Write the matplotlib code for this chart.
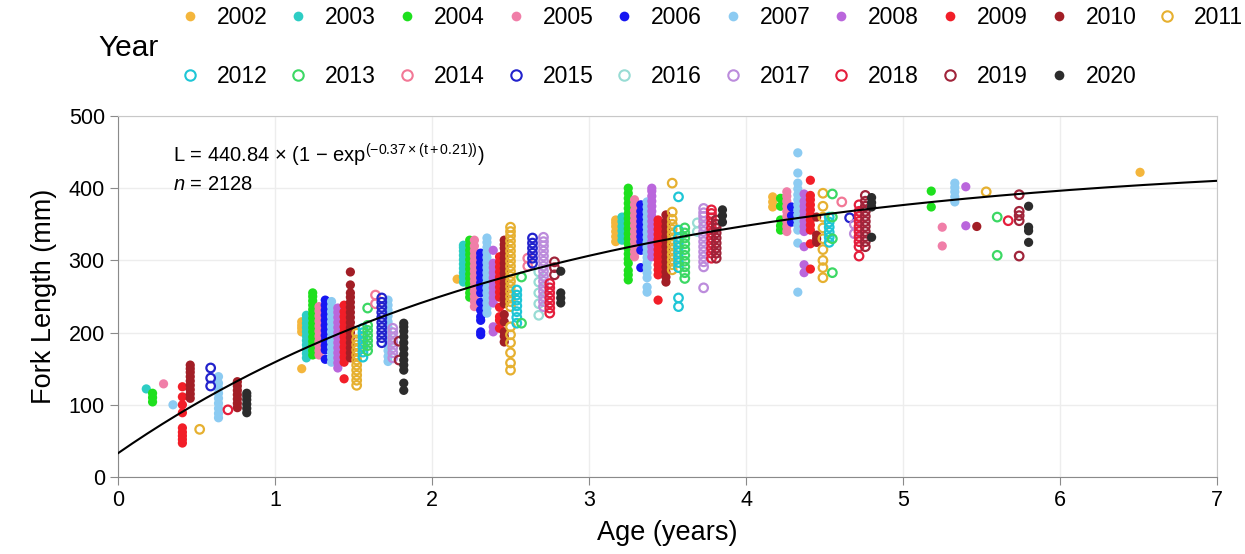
import numpy as np
import matplotlib
matplotlib.use("Agg")
import matplotlib.pyplot as plt
from matplotlib.lines import Line2D

plt.rcParams['font.family'] = ['Liberation Sans', 'DejaVu Sans']
plt.rcParams['mathtext.fontset'] = 'custom'
plt.rcParams['mathtext.rm'] = 'Liberation Sans'
plt.rcParams['mathtext.it'] = 'Liberation Sans:italic'

# fork length (mm) by sampling year, keyed by age (years) at capture
fl_2002 = {1.17: [150, 201, 206, 210, 215], 2.16: [274],
           3.17: [326, 333, 340, 347, 352, 356], 4.17: [374, 381, 388], 6.51: [422]}
fl_2003 = {0.18: [122], 1.20: [165, 171, 177, 183, 189, 195, 201, 207, 213, 219, 224],
           2.20: [270, 277, 283, 289, 295, 301, 307, 313, 318, 321],
           3.21: [328, 334, 341, 347, 354, 360]}
fl_2004 = {0.22: [104, 110, 116],
           1.24: [169, 175, 182, 188, 194, 201, 207, 213, 220, 226, 232, 238, 244, 250, 255],
           2.24: [249, 255, 262, 268, 275, 281, 288, 294, 301, 308, 314, 321, 328],
           3.25: [273, 280, 286, 296, 302, 309, 316, 323, 330, 337, 344, 351, 358, 365,
                  372, 379, 386, 393, 400],
           4.22: [342, 348, 356, 375, 386], 5.18: [374, 396]}
fl_2005 = {0.29: [129],
           1.28: [169, 175, 182, 188, 195, 202, 209, 216, 223, 230, 236],
           2.27: [236, 243, 250, 257, 264, 271, 278, 285, 292, 299, 306, 313, 320, 328],
           3.29: [305, 312, 319, 326, 333, 340, 348, 355, 362, 369, 377, 384],
           4.26: [340, 347, 354, 361, 368, 375, 382, 389, 395], 5.25: [320, 346]}
fl_2006 = {1.32: [163, 176, 182, 189, 196, 203, 210, 217, 224, 231, 238, 245],
           2.31: [197, 201, 217, 222, 231, 242, 255, 262, 269, 276, 283, 290, 297, 304, 310],
           3.33: [290, 314, 326, 333, 340, 347, 354, 361, 368, 377],
           4.29: [353, 362, 374]}
fl_2007 = {0.35: [100], 0.64: [82, 88, 95, 102, 109, 116, 123, 130, 139],
           1.36: [159, 166, 173, 180, 187, 194, 201, 208, 215, 222, 229, 236, 243],
           1.72: [160, 167, 175, 183, 191, 199, 207, 215, 223, 231, 238, 245],
           2.35: [227, 234, 241, 248, 255, 262, 269, 276, 283, 290, 297, 304, 311, 318,
                  325, 331],
           3.37: [256, 263, 276, 283, 290, 297, 304, 311, 318, 325, 332, 339, 346, 353,
                  360, 367, 374, 381],
           4.33: [256, 324, 342, 349, 356, 363, 370, 377, 384, 391, 399, 407, 421, 449],
           5.33: [381, 388, 395, 401, 407]}
fl_2008 = {1.40: [151, 158, 165, 172, 179, 186, 193, 200, 207, 214, 221, 228, 234],
           2.39: [201, 208, 241, 248, 255, 262, 269, 276, 283, 290, 296, 314],
           3.40: [305, 312, 319, 326, 333, 340, 347, 354, 361, 368, 375, 382, 389, 396, 400],
           4.37: [283, 294, 319, 340, 347, 354, 361, 368, 375, 382, 392],
           5.40: [348, 402]}
fl_2009 = {0.41: [47, 52, 57, 62, 68, 89, 100, 111, 125],
           1.44: [136, 159, 166, 173, 180, 187, 194, 201, 208, 215, 222, 229, 238],
           2.43: [206, 217, 222, 235, 249, 256, 263, 270, 277, 284, 291, 298, 305],
           3.44: [245, 280, 287, 294, 301, 308, 315, 322, 329, 336, 343, 350, 356],
           4.41: [288, 323, 342, 349, 356, 363, 370, 377, 384, 390, 411]}
fl_2010 = {0.46: [109, 115, 121, 127, 133, 139, 145, 150, 155],
           0.76: [96, 102, 108, 114, 120, 126, 132],
           1.48: [165, 172, 179, 186, 193, 200, 207, 214, 221, 228, 235, 242, 249, 255,
                  266, 284],
           2.46: [187, 195, 201, 215, 225, 240, 247, 254, 261, 268, 275, 282, 289, 296,
                  303, 310, 317, 322, 328],
           3.49: [270, 277, 284, 291, 298, 305, 312, 319, 326, 333, 340, 347, 354, 363],
           4.45: [325, 330, 335, 360], 5.47: [347]}
fl_2011 = {0.52: [66],
           1.52: [127, 134, 141, 148, 155, 162, 169, 176, 183, 190, 199],
           2.50: [148, 158, 172, 186, 197, 208, 236, 243, 250, 257, 264, 271, 278, 285,
                  292, 299, 306, 313, 320, 327, 334, 340, 346],
           3.53: [287, 294, 301, 308, 315, 322, 329, 336, 343, 350, 357, 367, 407],
           4.49: [276, 290, 300, 315, 330, 345, 360, 375, 393], 5.53: [395]}
fl_2012 = {1.56: [166, 173, 180, 187, 194, 200, 206],
           2.54: [213, 221, 229, 237, 245, 252, 259],
           3.57: [236, 248, 290, 297, 304, 311, 318, 325, 332, 342, 388],
           4.53: [325, 332, 339, 346, 353, 360]}
fl_2013 = {1.59: [175, 182, 189, 196, 203, 210, 234], 2.57: [213, 277],
           3.61: [275, 283, 291, 299, 307, 315, 323, 331, 338, 345],
           4.55: [283, 330, 360, 392], 5.60: [307, 360]}
fl_2014 = {1.64: [240, 252], 2.61: [292, 303], 4.61: [381]}
fl_2015 = {0.59: [126, 137, 151],
           1.68: [186, 193, 200, 207, 214, 221, 228, 235, 242, 248],
           2.64: [296, 303, 310, 317, 324, 331], 4.66: [359]}
fl_2016 = {2.68: [224, 240, 255, 270, 284], 3.69: [340, 352]}
fl_2017 = {1.75: [165, 172, 179, 186, 193, 200, 206],
           2.71: [236, 243, 250, 257, 264, 271, 278, 285, 292, 299, 306, 313, 320, 326, 332],
           3.73: [262, 291, 298, 305, 312, 319, 326, 333, 340, 347, 354, 361, 366, 372],
           4.69: [337, 350]}
fl_2018 = {0.70: [93], 2.75: [227, 234, 241, 248, 255, 262, 268],
           3.78: [303, 310, 317, 324, 331, 338, 345, 352, 359, 365, 370],
           4.72: [306, 319, 326, 333, 340, 347, 354, 361, 368, 377], 5.67: [355]}
fl_2019 = {1.79: [162, 188], 2.78: [280, 290, 298],
           3.81: [303, 310, 317, 324, 331, 338, 345, 350, 356],
           4.76: [319, 326, 333, 340, 347, 354, 361, 368, 375, 382, 390],
           5.74: [306, 355, 362, 368, 391]}
fl_2020 = {0.82: [89, 95, 101, 107, 112, 116],
           1.82: [120, 130, 148, 155, 162, 170, 178, 186, 194, 202, 208, 213],
           2.82: [241, 248, 255, 285], 3.85: [353, 362, 370],
           4.80: [332, 374, 380, 387], 5.80: [325, 341, 346, 375]}

years = list(range(2002, 2021))
samples = [fl_2002, fl_2003, fl_2004, fl_2005, fl_2006, fl_2007, fl_2008, fl_2009, fl_2010,
           fl_2011, fl_2012, fl_2013, fl_2014, fl_2015, fl_2016, fl_2017, fl_2018, fl_2019,
           fl_2020]
colors = ['#F4B63C', '#2DCDC4', '#1EE01E', '#F07EA8', '#1616F2', '#8CCBF2', '#BA66DC',
          '#F21E28', '#A21E26', '#E6B030', '#1EC6D6', '#3CD864', '#F27896', '#2222CC',
          '#98DCD4', '#BC8CDC', '#E41E3C', '#A0243A', '#2C2C2C']
filled = [True] * 9 + [False] * 9 + [True]

# von Bertalanffy growth curve
Linf, K, t0 = 440.84, 0.37, -0.21

fig = plt.figure(figsize=(12.45, 5.54), dpi=100)
ax = fig.add_axes([0.0948, 0.139, 0.8827, 0.6516])

for yr, d, c, f in zip(years, samples, colors, filled):
    xs, ys = [], []
    for age, vals in d.items():
        xs += [age] * len(vals)
        ys += vals
    if f:
        ax.scatter(xs, ys, s=44, color=c, edgecolors='none', zorder=3)
    else:
        ax.scatter(xs, ys, s=38, facecolors='none', edgecolors=c, linewidths=1.6, zorder=3)

t = np.linspace(0, 7, 300)
ax.plot(t, Linf * (1 - np.exp(-K * (t - t0))), color='black', lw=1.5, zorder=4)

ax.text(0.35, 446,
        r'L = 440.84 $\times$ (1 $-$ exp$^{(-0.37\times(\mathrm{t}+0.21))}$)',
        fontsize=14.5, va='center')
ax.text(0.35, 405, r'$n$ = 2128', fontsize=14.5, va='center')

ax.set_xlim(0, 7)
ax.set_ylim(0, 500)
ax.set_xticks(range(0, 8))
ax.set_yticks(range(0, 501, 100))
ax.grid(color='#EDEDED', lw=1)
ax.set_axisbelow(True)
for s in ['left', 'bottom']:
    ax.spines[s].set_color('#8A8A8A')
for s in ['top', 'right']:
    ax.spines[s].set_color('#C8C8C8')
ax.tick_params(labelsize=15.5, color='#8A8A8A', length=6)
ax.set_xlabel('Age (years)', fontsize=19.5, labelpad=6)
ax.set_ylabel('Fork Length (mm)', fontsize=19.5, labelpad=8)

# legend laid out in two rows (2002-2011, 2012-2020)
handles = []
for yr, c, f in zip(years, colors, filled):
    handles.append(Line2D([], [], ls='none', marker='o', markersize=7 if f else 7.5,
                          markerfacecolor=c if f else 'none', markeredgecolor=c,
                          markeredgewidth=0 if f else 1.5, label=str(yr)))
order = []
for i in range(10):
    order.append(handles[i])
    if i + 10 < len(handles):
        order.append(handles[i + 10])
fig.legend(handles=order, ncol=10, loc='upper left', bbox_to_anchor=(0.1434, 0.99),
           frameon=False, fontsize=16.5, handlelength=1.0, handletextpad=0.67,
           columnspacing=0.85, labelspacing=1.6, borderpad=0, borderaxespad=0)
fig.text(0.079, 0.913, 'Year', fontsize=21.5, va='center')

fig.savefig('out.png', dpi=100)
